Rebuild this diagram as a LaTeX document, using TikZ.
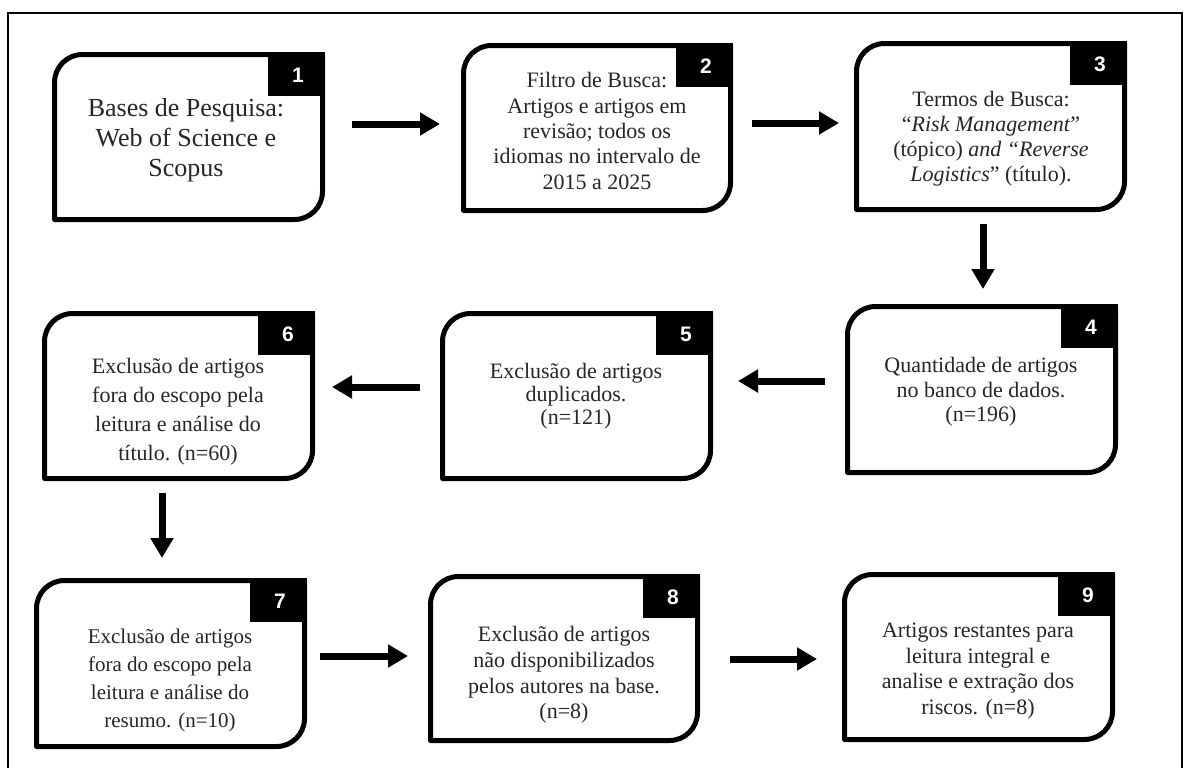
\documentclass[tikz,border=0pt]{standalone}
\usepackage{fontspec}
\setmainfont{Liberation Serif}
\newfontfamily\numfont{Liberation Sans}
\usetikzlibrary{arrows.meta}
\tikzset{
  boxline/.style={line width=2.5pt, line join=round, black},
  numlabel/.style={text=white, font=\fontsize{10.5}{12}\numfont\bfseries, inner sep=0pt},
  boxtext/.style={align=center, inner sep=0pt, text=black!85},
  boxarea/.style={draw=none, inner sep=0pt},
  arr/.style={line width=3.5pt, black, -{Triangle[width=11pt,length=10pt]}},
  frame/.style={line width=1pt, black}
}
\newcommand\flowbox[6]{%
  \pgfmathsetmacro\ba{#2+2.5}\pgfmathsetmacro\bb{#3+2.5}%
  \pgfmathsetmacro\bc{#4-2.5}\pgfmathsetmacro\bd{#5-2.5}%
  \pgfmathsetmacro\bw{(#4-#2)*0.5}\pgfmathsetmacro\bh{(#5-#3)*0.5}%
  \node[boxarea, minimum width=\bw pt, minimum height=\bh pt] (#1) at ({(#2+#4)/2},{(#3+#5)/2}) {};
  \draw[boxline] (\ba,\bd) -- (\ba,\bb+28)
     .. controls (\ba,\bb+12.5) and (\ba+12.5,\bb) .. (\ba+28,\bb)
     -- (\bc,\bb) -- (\bc,\bd-28)
     .. controls (\bc,\bd-12.5) and (\bc-12.5,\bd) .. (\bc-28,\bd) -- cycle;
  \fill[black] (#4-57,#3) rectangle (#4,#3+44);
  \node[numlabel] (#1num) at (#4-27,#3+23) {#6};
}
\begin{document}
\begin{tikzpicture}[x=0.5pt,y=-0.5pt]
\useasboundingbox (0,0) rectangle (1190,767);
\fill[white] (0,0) rectangle (1190,767);
\begin{scope}
\clip (0,0) rectangle (1190,767);
\draw[frame] (8,790) -- (8,13) -- (1182,13) -- (1182,790);
\end{scope}

\flowbox{b1}{52}{52}{325}{222}{1}
\flowbox{b2}{461}{43}{733}{213}{2}
\flowbox{b3}{854}{41}{1127}{212}{3}
\flowbox{b4}{845}{304}{1118}{475}{4}
\flowbox{b5}{440}{311}{713}{481}{5}
\flowbox{b6}{42}{311}{315}{481}{6}
\flowbox{b7}{34}{578}{307}{749}{7}
\flowbox{b8}{428}{574}{700}{743}{8}
\flowbox{b9}{842}{572}{1115}{742}{9}

\node[boxtext, font=\fontsize{13}{15}\selectfont] (t1) at (186,140)
  {Bases de Pesquisa:\\Web of Science e\\Scopus};
\node[boxtext, font=\fontsize{11}{12.7}\selectfont] (t2) at (597,131)
  {Filtro de Busca:\\Artigos e artigos em\\revisão; todos os\\idiomas no intervalo de\\2015 a 2025};
\node[boxtext, font=\fontsize{11}{12.5}\selectfont] (t3) at (991,139)
  {Termos de Busca:\\“\textit{Risk Management}”\\(tópico) \textit{and “Reverse}\\\textit{Logistics}” (título).};
\node[boxtext, font=\fontsize{11}{12.3}\selectfont] (t4) at (981,392)
  {Quantidade de artigos\\no banco de dados.\\(n=196)};
\node[boxtext, font=\fontsize{11}{11.5}\selectfont] (t5) at (576,396)
  {Exclusão de artigos\\duplicados.\\(n=121)};
\node[boxtext, font=\fontsize{11}{14.5}\selectfont] (t6) at (178,412)
  {Exclusão de artigos\\fora do escopo pela\\leitura e análise do\\título. (n=60)};
\node[boxtext, font=\fontsize{10.5}{14}\selectfont] (t7) at (170,680)
  {Exclusão de artigos\\fora do escopo pela\\leitura e análise do\\resumo. (n=10)};
\node[boxtext, font=\fontsize{11}{12.8}\selectfont] (t8) at (564,675)
  {Exclusão de artigos\\não disponibilizados\\pelos autores na base.\\(n=8)};
\node[boxtext, font=\fontsize{11}{12.8}\selectfont] (t9) at (978,671)
  {Artigos restantes para\\leitura integral e\\analise e extração dos\\riscos. (n=8)};

\coordinate (a12s) at (352,124); \coordinate (a12e) at (440,124);
\coordinate (a23s) at (752,123); \coordinate (a23e) at (839,123);
\coordinate (a34s) at (983,224); \coordinate (a34e) at (983,289);
\coordinate (a45s) at (825,381); \coordinate (a45e) at (738,381);
\coordinate (a56s) at (420,387); \coordinate (a56e) at (332,387);
\coordinate (a67s) at (162,493); \coordinate (a67e) at (162,558);
\coordinate (a78s) at (320,656); \coordinate (a78e) at (408,656);
\coordinate (a89s) at (730,659); \coordinate (a89e) at (817,659);

\draw[arr] (a12s) -- (a12e);
\draw[arr] (a23s) -- (a23e);
\draw[arr] (a34s) -- (a34e);
\draw[arr] (a45s) -- (a45e);
\draw[arr] (a56s) -- (a56e);
\draw[arr] (a67s) -- (a67e);
\draw[arr] (a78s) -- (a78e);
\draw[arr] (a89s) -- (a89e);
\end{tikzpicture}
\end{document}
